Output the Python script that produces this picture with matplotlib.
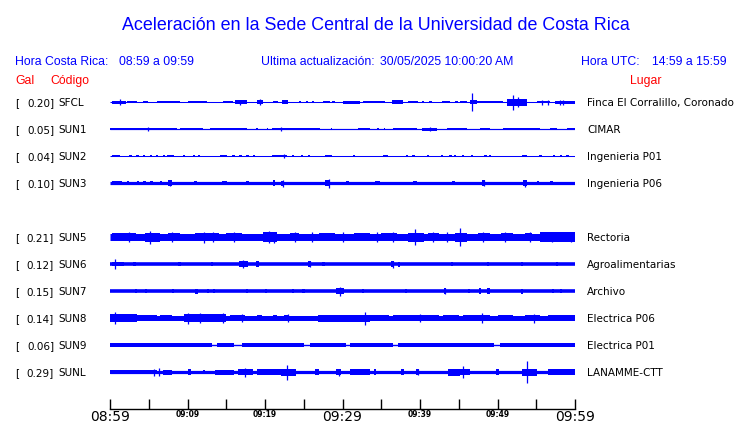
import matplotlib
matplotlib.use('Agg')
import matplotlib.pyplot as plt
from matplotlib.transforms import blended_transform_factory

# Station table (top to bottom)
codes = ['SFCL', 'SUN1', 'SUN2', 'SUN3', 'SUN5', 'SUN6', 'SUN7', 'SUN8', 'SUN9', 'SUNL']
gal = [0.20, 0.05, 0.04, 0.10, 0.21, 0.12, 0.15, 0.14, 0.06, 0.29]
places = ['Finca El Corralillo, Coronado', 'CIMAR', 'Ingenieria P01', 'Ingenieria P06',
          'Rectoria', 'Agroalimentarias', 'Archivo', 'Electrica P06', 'Electrica P01',
          'LANAMME-CTT']
rows = [0, 1, 2, 3, 5, 6, 7, 8, 9, 10]

# time axis: minutes after 08:59
tick_minutes = list(range(0, 61, 5))
tick_labels = ['08:59', '', '09:09', '', '09:19', '', '09:29', '', '09:39', '', '09:49', '', '09:59']
big_labels = ['08:59', '09:29', '09:59']

# amplitude of each trace (half height in screen px)
base_amp = [0.5, 0.6, 0.4, 1.6, 3.5, 1.8, 1.8, 2.5, 0.7, 1.6]

# bursts: (start min, end min, half amplitude)
bursts_sfcl = [(0.3, 2.1, 1.5), (2.2, 3.5, 1.0), (4.3, 4.9, 0.8), (6.0, 9.0, 1.3), (10.1, 12.5, 1.0),
               (14.6, 15.9, 1.0), (16.1, 17.7, 1.8), (19.0, 19.8, 2.0), (21.0, 21.7, 1.2),
               (22.2, 23.0, 1.8), (24.4, 24.7, 0.8), (25.3, 25.6, 0.8), (26.0, 26.3, 0.8),
               (27.5, 28.4, 1.0), (28.7, 29.0, 0.8), (30.1, 32.3, 1.5), (32.6, 33.5, 1.0),
               (33.5, 35.5, 1.3), (36.4, 37.8, 1.6), (38.5, 39.7, 1.3), (40.2, 40.5, 0.8),
               (41.2, 41.5, 0.8), (42.8, 43.9, 1.0), (44.5, 44.9, 0.8), (45.2, 46.1, 1.2),
               (46.5, 47.4, 1.8), (47.4, 50.7, 1.2), (51.2, 53.8, 3.5), (55.1, 56.8, 1.2),
               (57.4, 60.0, 1.5)]
bursts_sun1 = [(0.0, 3.9, 1.2), (3.9, 6.0, 1.0), (6.0, 8.6, 1.1), (9.0, 12.0, 1.2), (12.9, 17.7, 1.1),
               (18.8, 19.1, 1.0), (20.2, 20.4, 1.0), (20.9, 24.1, 1.4), (24.1, 27.1, 1.1),
               (28.5, 28.7, 1.0), (32.0, 33.5, 1.2), (34.5, 34.7, 1.0), (35.3, 35.5, 1.0),
               (36.5, 39.6, 1.2), (40.3, 42.2, 1.5), (43.5, 46.1, 1.0), (47.7, 49.0, 1.0),
               (50.7, 55.5, 1.2), (56.8, 57.7, 1.0), (59.0, 60.0, 1.0)]
bursts_sun2 = [(0.2, 1.3, 1.0), (2.5, 2.8, 0.8), (3.4, 3.7, 0.8), (4.2, 4.5, 0.8), (5.1, 5.4, 0.8),
               (5.9, 6.2, 0.8), (6.8, 7.1, 0.8), (7.3, 8.2, 1.0), (9.4, 9.7, 0.8), (10.7, 11.0, 0.8),
               (11.3, 11.6, 0.8), (14.2, 15.1, 1.0), (15.8, 16.1, 0.8), (16.7, 17.0, 0.8),
               (17.6, 17.9, 0.8), (18.4, 18.7, 0.8), (20.9, 22.8, 1.0), (23.5, 23.8, 0.8),
               (24.6, 24.9, 0.8), (25.5, 25.8, 0.8), (27.7, 28.6, 1.2), (31.3, 31.6, 0.8),
               (35.2, 35.9, 1.0), (38.2, 38.5, 0.8), (39.0, 39.3, 0.8), (40.9, 41.2, 0.8),
               (42.7, 43.0, 0.8), (43.8, 44.1, 0.8), (44.4, 44.7, 0.8), (45.4, 45.7, 0.8),
               (46.6, 46.9, 0.8), (48.3, 48.6, 0.8), (48.9, 49.2, 0.8), (53.2, 53.8, 1.0),
               (55.4, 55.7, 0.8), (57.1, 57.4, 0.8), (58.0, 58.3, 0.8), (58.9, 59.2, 0.8)]
bursts_sun3 = [(0.2, 1.5, 2.2), (2.2, 2.5, 2.2), (3.5, 3.8, 2.2), (4.3, 4.6, 2.1), (5.2, 5.5, 2.1),
               (6.4, 6.7, 2.1), (7.5, 8.0, 2.6), (10.9, 11.2, 2.2), (14.4, 15.1, 2.4), (17.6, 17.9, 2.3),
               (21.0, 21.3, 2.6), (22.1, 22.5, 2.5), (27.7, 28.4, 2.6), (30.5, 30.8, 2.2),
               (34.2, 34.8, 2.2), (39.1, 39.6, 2.2), (44.1, 44.5, 2.3), (48.0, 48.4, 2.6),
               (53.3, 53.8, 2.6), (55.1, 55.4, 2.2), (56.8, 57.1, 2.2)]
bursts_sun5 = [(0.2, 3.4, 4.3), (4.5, 6.5, 4.5), (7.5, 9.0, 4.2), (11.0, 14.0, 4.4), (15.0, 17.0, 4.2),
               (19.8, 21.6, 4.6), (23.2, 24.4, 4.4), (27.0, 29.0, 4.2), (31.5, 33.5, 4.2),
               (35.0, 37.0, 4.3), (38.5, 40.5, 4.5), (41.0, 42.5, 4.3), (44.5, 46.0, 4.5),
               (47.5, 49.0, 4.3), (50.5, 52.0, 4.2), (53.5, 54.5, 4.3), (55.5, 60.0, 4.6)]
bursts_sun6 = [(0.2, 1.8, 2.4), (3.0, 3.3, 2.3), (8.8, 9.1, 2.3), (13.0, 13.3, 2.3), (16.7, 17.8, 2.7),
               (18.9, 19.2, 2.7), (25.6, 26.0, 2.7), (27.4, 27.7, 2.4), (36.3, 36.7, 2.7),
               (37.1, 37.4, 2.5), (44.0, 44.3, 2.3), (48.6, 48.9, 2.3), (53.0, 53.3, 2.3),
               (57.5, 57.8, 2.3)]
bursts_sun7 = [(3.2, 3.5, 2.3), (4.5, 4.8, 2.3), (8.0, 8.3, 2.3), (11.0, 11.3, 2.5), (12.5, 12.8, 2.4),
               (13.3, 13.6, 2.3), (17.5, 17.8, 2.4), (20.0, 20.3, 2.4), (23.5, 23.8, 2.3),
               (24.8, 25.1, 2.4), (29.2, 30.2, 2.7), (32.5, 32.8, 2.3), (38.0, 38.3, 2.3),
               (43.1, 43.4, 2.7), (46.2, 46.5, 2.3), (47.6, 47.9, 2.7), (48.7, 49.0, 2.7),
               (53.0, 53.3, 2.5), (57.0, 57.3, 2.4), (58.0, 58.3, 2.4)]
bursts_sun8 = [(0.0, 3.5, 4.0), (3.5, 6.0, 3.4), (6.5, 8.0, 3.3), (9.5, 15.0, 3.6), (15.5, 17.4, 3.2),
               (19.0, 19.6, 3.2), (21.0, 21.5, 3.4), (22.5, 23.0, 3.2), (26.9, 33.5, 3.5),
               (33.5, 36.0, 3.4), (36.5, 42.4, 3.2), (43.0, 45.0, 3.1), (45.5, 49.0, 3.4),
               (50.0, 52.0, 3.1), (53.5, 55.5, 3.3), (56.5, 60.0, 3.3)]
bursts_sun9 = [(0.0, 13.2, 1.8), (13.8, 16.0, 1.8), (17.0, 25.0, 1.8), (25.8, 30.4, 1.8),
               (31.0, 36.5, 1.8), (37.1, 49.5, 1.8), (50.3, 60.0, 1.8)]
bursts_sunl = [(0.0, 6.0, 2.4), (6.8, 8.0, 2.5), (10.0, 10.4, 2.6), (12.0, 12.3, 2.4), (13.5, 16.0, 2.5),
               (16.5, 18.5, 3.0), (19.0, 22.0, 2.6), (22.0, 24.0, 3.5), (26.5, 27.0, 2.6),
               (29.2, 29.8, 3.0), (31.0, 33.5, 2.6), (34.0, 34.3, 2.6), (37.6, 38.0, 3.0),
               (39.5, 39.9, 3.0), (43.6, 45.2, 3.5), (45.2, 46.5, 3.0), (49.8, 50.2, 2.6),
               (53.2, 55.1, 3.5), (56.5, 60.0, 2.6)]

# spikes: (minute, half amplitude)
spikes_sfcl = [(1.3, 3.0), (16.8, 2.5), (19.4, 2.6), (46.7, 8.7), (52.0, 7.5), (52.6, 5.0),
               (55.7, 2.5), (56.5, 2.5), (58.1, 2.5), (58.5, 2.5)]
spikes_sun1 = [(4.9, 2.0), (22.0, 1.8), (41.3, 2.0)]
spikes_sun2 = [(22.4, 1.6)]
spikes_sun3 = [(7.8, 3.0), (22.3, 3.5), (28.3, 4.5), (48.2, 3.0), (53.5, 3.5)]
spikes_sun5 = [(2.5, 5.0), (5.2, 6.5), (8.0, 4.8), (12.1, 5.5), (13.3, 5.0), (16.0, 4.8), (20.5, 6.0),
               (21.1, 5.5), (23.9, 5.0), (26.0, 4.6), (30.0, 4.6), (34.5, 4.8), (36.5, 4.8),
               (39.4, 8.0), (41.7, 5.0), (43.5, 4.6), (45.2, 9.0), (48.1, 5.0), (51.0, 4.8),
               (54.2, 5.0), (57.0, 5.0), (59.5, 5.0)]
spikes_sun6 = [(0.6, 5.0), (17.2, 4.0), (25.8, 2.8), (36.5, 3.5)]
spikes_sun7 = [(29.7, 4.5), (43.2, 3.0)]
spikes_sun8 = [(0.7, 6.0), (10.1, 5.5), (11.6, 5.0), (14.6, 5.0), (17.0, 4.2), (23.0, 4.0),
               (32.9, 6.5), (40.0, 4.2), (48.0, 5.0), (54.7, 4.5)]
spikes_sun9 = []
spikes_sunl = [(5.7, 3.5), (6.3, 4.0), (17.4, 4.5), (22.8, 7.5), (29.5, 3.5), (39.7, 3.2),
               (45.5, 6.0), (53.8, 11.0)]

bursts = [bursts_sfcl, bursts_sun1, bursts_sun2, bursts_sun3, bursts_sun5,
          bursts_sun6, bursts_sun7, bursts_sun8, bursts_sun9, bursts_sunl]
spikes = [spikes_sfcl, spikes_sun1, spikes_sun2, spikes_sun3, spikes_sun5,
          spikes_sun6, spikes_sun7, spikes_sun8, spikes_sun9, spikes_sunl]

BLUE = '#0000ff'
RED = '#ff0000'
W, H = 740, 423
px = 1.0 / 27  # one screen pixel in row units

fig = plt.figure(figsize=(W / 100, H / 100), dpi=100)
ax = fig.add_axes([110 / W, (H - 409) / H, 465 / W, (409 - 88) / H])
ax.set_xlim(0, 60)
ax.set_ylim((409 - 102) / 27, (88 - 102) / 27)

for row, b, bl, sp in zip(rows, base_amp, bursts, spikes):
    ax.hlines(row, 0, 60, color=BLUE, lw=max(2 * b * 0.72, 0.75))
    if bl:
        ax.bar([(a + e) / 2 for a, e, _ in bl], [2 * h * px for _, _, h in bl],
               width=[e - a for a, e, _ in bl], bottom=[row - h * px for _, _, h in bl],
               color=BLUE, linewidth=0)
    if sp:
        ax.vlines([t for t, _ in sp], [row - h * px for _, h in sp], [row + h * px for _, h in sp],
                  color=BLUE, lw=0.9)

for s in ['left', 'right', 'top']:
    ax.spines[s].set_visible(False)
ax.spines['bottom'].set_linewidth(1)
ax.set_yticks([])
ax.set_xticks(tick_minutes)
ax.set_xticklabels(tick_labels)
ax.tick_params(axis='x', direction='in', length=7.5, width=1, pad=1)
for lab in ax.get_xticklabels():
    if lab.get_text() in big_labels:
        lab.set_fontsize(10)
    else:
        lab.set_fontsize(5.5)
        lab.set_fontweight('bold')

# station labels
tr = blended_transform_factory(fig.transFigure, ax.transData)
for row, g, c, p in zip(rows, gal, codes, places):
    ax.text(15 / W, row, '[', transform=tr, fontsize=7.5, va='center_baseline', ha='left')
    ax.text(54 / W, row, f'{g:.2f}]', transform=tr, fontsize=7.5, va='center_baseline', ha='right')
    ax.text(58 / W, row, c, transform=tr, fontsize=7.5, va='center_baseline', ha='left')
    ax.text(587 / W, row, p, transform=tr, fontsize=7.5, va='center_baseline', ha='left')

# header
hf = 'Liberation Sans'
fig.text(375.5 / W, 1 - 30 / H, 'Aceleración en la Sede Central de la Universidad de Costa Rica',
         ha='center', va='baseline', color=BLUE, fontsize=12.9, family=hf)
y1 = 1 - 65 / H
fig.text(15 / W, y1, 'Hora Costa Rica:', color=BLUE, fontsize=8.8, family=hf, va='baseline')
fig.text(119 / W, y1, '08:59 a 09:59', color=BLUE, fontsize=8.8, family=hf, va='baseline')
fig.text(261 / W, y1, 'Ultima actualización:', color=BLUE, fontsize=8.8, family=hf, va='baseline')
fig.text(380 / W, y1, '30/05/2025 10:00:20 AM', color=BLUE, fontsize=8.8, family=hf, va='baseline')
fig.text(581 / W, y1, 'Hora UTC:', color=BLUE, fontsize=8.8, family=hf, va='baseline')
fig.text(652 / W, y1, '14:59 a 15:59', color=BLUE, fontsize=8.8, family=hf, va='baseline')
y2 = 1 - 84 / H
fig.text(15 / W, y2, 'Gal', color=RED, fontsize=8.8, family=hf, va='baseline')
fig.text(50 / W, y2, 'Código', color=RED, fontsize=8.8, family=hf, va='baseline')
fig.text(630 / W, y2, 'Lugar', color=RED, fontsize=8.8, family=hf, va='baseline')

fig.savefig('out.png', dpi=100)
